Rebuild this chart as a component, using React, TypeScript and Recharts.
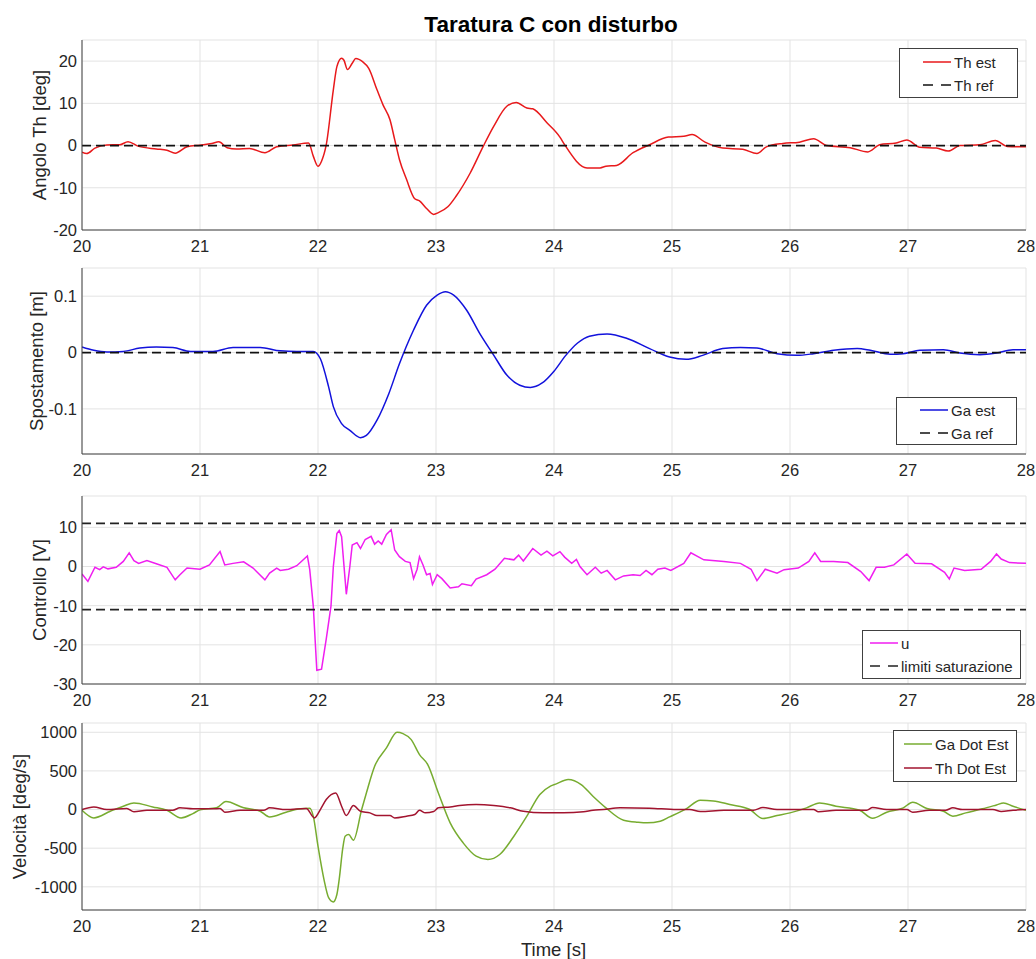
import React from 'react';
import { LineChart, Line, XAxis, YAxis, CartesianGrid } from 'recharts';

const FONT = '"Liberation Sans", Arial, Helvetica, sans-serif';
const AXIS = '#404040';
const TEXT = '#262626';
const GRID = '#e3e3e3';

type Pt = [number, number];

const timeTicks = [20, 21, 22, 23, 24, 25, 26, 27, 28];
const angleTicks = [-20, -10, 0, 10, 20];
const shiftTicks = [-0.1, 0, 0.1];
const ctrlTicks = [-30, -20, -10, 0, 10];
const speedTicks = [-1000, -500, 0, 500, 1000];

// Th est [deg]
const thEst: Pt[] = [
  [20.0, -1.6], [20.04, -1.9], [20.11, -0.6], [20.21, 0.15], [20.32, 0.2], [20.39, 0.9], [20.48, -0.2],
  [20.63, -0.8], [20.72, -1.1], [20.79, -1.8], [20.89, -0.3], [21.0, 0.1], [21.1, 0.5], [21.16, 0.9],
  [21.23, -0.5], [21.31, -0.8], [21.42, -0.7], [21.55, -1.7], [21.65, -0.3], [21.79, 0.15], [21.92, 0.6],
  [21.96, -2.5], [22.0, -4.9], [22.03, -3.7], [22.07, 0.2], [22.13, 13.2], [22.16, 18.7], [22.2, 20.7],
  [22.22, 20.2], [22.25, 18.0], [22.29, 19.5], [22.32, 20.6], [22.38, 19.8], [22.43, 18.3], [22.5, 13.2],
  [22.55, 9.7], [22.61, 6.1], [22.65, 1.4], [22.69, -3.3], [22.75, -8.0], [22.82, -12.6], [22.86, -13.1],
  [22.92, -14.9], [22.98, -16.3], [23.02, -15.9], [23.1, -14.5], [23.17, -12.0], [23.29, -6.5], [23.4, -0.2],
  [23.49, 4.6], [23.6, 9.3], [23.68, 10.2], [23.77, 8.9], [23.82, 8.7], [23.94, 5.4], [24.05, 2.0],
  [24.09, 0.2], [24.28, -5.3], [24.39, -5.3], [24.44, -4.9], [24.53, -4.7], [24.67, -1.7], [24.81, 0.2],
  [24.97, 2.0], [25.1, 2.2], [25.17, 2.6], [25.28, 0.8], [25.43, -0.6], [25.6, -0.9], [25.72, -1.9],
  [25.8, -0.3], [25.94, 0.5], [26.08, 0.8], [26.2, 1.6], [26.31, 0], [26.51, -0.5], [26.66, -1.5],
  [26.76, 0.2], [26.9, 0.6], [26.99, 1.3], [27.1, -0.4], [27.24, -0.6], [27.34, -1.3], [27.44, 0],
  [27.61, 0.2], [27.74, 1.2], [27.84, -0.2], [28.0, -0.3],
];
const thRef = 0;

// Ga est [m]
const gaEst: Pt[] = [
  [20.0, 0.01], [20.1, 0.004], [20.21, 0.001], [20.35, 0.002], [20.49, 0.008], [20.63, 0.01], [20.77, 0.009],
  [20.92, 0.002], [21.11, 0.002], [21.28, 0.009], [21.51, 0.009], [21.68, 0.003], [21.82, 0.002], [21.96, 0.002],
  [22.02, -0.011], [22.09, -0.061], [22.13, -0.096], [22.2, -0.126], [22.27, -0.138], [22.36, -0.151],
  [22.41, -0.147], [22.5, -0.12], [22.6, -0.073], [22.69, -0.02], [22.81, 0.04], [22.92, 0.084], [23.01, 0.102],
  [23.08, 0.108], [23.15, 0.102], [23.26, 0.075], [23.37, 0.034], [23.49, -0.005], [23.6, -0.04], [23.71, -0.058],
  [23.8, -0.062], [23.9, -0.054], [24.0, -0.033], [24.1, -0.005], [24.2, 0.017], [24.3, 0.029],
  [24.45, 0.033], [24.62, 0.025], [24.81, 0.007], [24.98, -0.008], [25.12, -0.012],
  [25.26, -0.005], [25.43, 0.007], [25.58, 0.009], [25.72, 0.008], [25.89, -0.002], [26.06, -0.005],
  [26.2, -0.002], [26.37, 0.004], [26.57, 0.007], [26.68, 0.004], [26.85, -0.003], [26.96, -0.002],
  [27.1, 0.004], [27.3, 0.005], [27.44, -0.001], [27.61, -0.004], [27.75, -0.001], [27.89, 0.005], [28.0, 0.005],
];
const gaRef = 0;

// u [V]
const uCtrl: Pt[] = [
  [20.0, -1.9], [20.05, -3.8], [20.11, -0.2], [20.15, -0.8], [20.18, -0.1], [20.22, -0.6], [20.29, -0.2],
  [20.35, 1.3], [20.4, 3.5], [20.44, 1.5], [20.48, 0.8], [20.55, 1.5], [20.63, 0.7], [20.72, -0.2],
  [20.79, -3.4], [20.83, -2.1], [20.89, -0.4], [21.0, -0.7], [21.08, 0.4], [21.17, 3.8], [21.21, 0.4],
  [21.28, 0.8], [21.37, 1.2], [21.45, -0.4], [21.55, -3.4], [21.59, -1.7], [21.65, -0.4], [21.68, -1.0],
  [21.75, -0.7], [21.82, 0.2], [21.91, 2.7], [21.93, -0.8], [21.96, -10.1], [21.99, -26.5], [22.03, -26.2],
  [22.07, -18.5], [22.11, -10.1], [22.13, 0], [22.16, 8.4], [22.18, 9.2], [22.2, 7.6], [22.23, -3.4],
  [22.24, -7.1], [22.27, 0], [22.29, 5.5], [22.33, 6.1], [22.36, 4.6], [22.4, 6.9], [22.45, 7.7],
  [22.48, 5.7], [22.51, 6.5], [22.54, 5.7], [22.58, 8.2], [22.62, 9.4], [22.65, 4.2], [22.69, 2.5],
  [22.74, 1.3], [22.78, 1.0], [22.81, -3.1], [22.84, -0.7], [22.86, 2.5], [22.89, 0.4], [22.92, -2.1],
  [22.95, -1.8], [22.97, -4.6], [23.01, -2.1], [23.05, -3.1], [23.12, -5.5], [23.19, -5.2], [23.22, -4.4],
  [23.3, -4.9], [23.34, -3.2], [23.43, -2.1], [23.5, -0.7], [23.58, 2.1], [23.66, 1.7], [23.7, 2.9],
  [23.74, 1.4], [23.82, 4.6], [23.89, 2.9], [23.94, 3.9], [23.99, 2.7], [24.05, 3.8], [24.09, 2.4],
  [24.15, 0.8], [24.19, 1.8], [24.22, 0], [24.28, -2.1], [24.35, -0.2], [24.4, -1.7], [24.45, -1.0],
  [24.52, -3.4], [24.59, -2.4], [24.67, -2.1], [24.73, -2.3], [24.78, -1.0], [24.83, -2.1], [24.88, -0.7],
  [24.94, -0.4], [24.99, -1.0], [25.1, 0.8], [25.16, 3.5], [25.27, 1.7], [25.44, 1.3], [25.58, 0.8],
  [25.67, -0.7], [25.72, -3.6], [25.79, -0.7], [25.89, -1.7], [25.95, -0.8], [26.07, -0.4], [26.16, 1.3],
  [26.21, 3.5], [26.26, 1.3], [26.37, 1.3], [26.49, 1.0], [26.6, -1.3], [26.67, -3.6], [26.73, -0.2],
  [26.8, -0.2], [26.88, 0.4], [26.99, 3.2], [27.06, 0.8], [27.2, 0.7], [27.31, -1.5], [27.35, -3.2],
  [27.39, -0.4], [27.48, -1.0], [27.62, -0.7], [27.7, 1.3], [27.75, 3.2], [27.79, 1.9], [27.86, 1.0],
  [28.0, 0.8],
];
const uLimit = 11;

// Ga Dot Est / Th Dot Est [deg/s]
const gaDotEst: Pt[] = [
  [20.0, -9], [20.1, -108], [20.24, -22], [20.35, 43], [20.44, 86], [20.6, 34], [20.72, -9], [20.84, -108],
  [20.94, -52], [21.0, -4], [21.14, 22], [21.22, 103], [21.37, 22], [21.51, -22], [21.59, -95], [21.73, -34],
  [21.85, 9], [21.93, 17], [21.96, -86], [22.0, -474], [22.05, -900], [22.09, -1140], [22.13, -1195],
  [22.16, -1100], [22.18, -900], [22.21, -500], [22.23, -345], [22.26, -323], [22.3, -397], [22.37, 0],
  [22.41, 215], [22.48, 560], [22.58, 797], [22.67, 1000], [22.72, 983], [22.79, 905], [22.86, 711],
  [22.93, 582], [23.02, 215], [23.12, -172], [23.23, -431], [23.34, -603], [23.44, -647], [23.54, -582],
  [23.66, -345], [23.77, -86], [23.88, 194], [23.97, 302], [24.02, 332], [24.12, 388], [24.23, 323],
  [24.33, 172], [24.44, 22], [24.59, -138], [24.71, -164], [24.79, -172], [24.9, -151], [24.98, -95],
  [25.12, 9], [25.24, 121], [25.35, 112], [25.49, 65], [25.66, 0], [25.77, -116], [25.89, -78], [26.0, -43],
  [26.14, 22], [26.25, 86], [26.39, 43], [26.59, -9], [26.7, -112], [26.82, -34], [26.96, 22], [27.04, 95],
  [27.16, 13], [27.3, -22], [27.38, -86], [27.49, -43], [27.63, 9], [27.75, 60], [27.81, 86], [27.89, 43],
  [28.0, -9],
];
const thDotEst: Pt[] = [
  [20.0, 0], [20.1, 34], [20.21, 0], [20.38, 13], [20.44, -30], [20.55, -9], [20.77, -9], [20.83, 22],
  [20.94, 9], [21.11, 9], [21.17, 13], [21.21, -34], [21.34, -9], [21.54, -9], [21.59, 22], [21.73, 0],
  [21.9, 13], [21.97, -108], [22.02, 0], [22.07, 129], [22.15, 215], [22.2, 43], [22.24, -78], [22.3, 52],
  [22.36, -22], [22.44, -43], [22.5, -78], [22.61, -78], [22.65, -108], [22.75, -86], [22.82, -65],
  [22.86, -9], [22.91, -43], [22.98, -26], [23.02, 22], [23.12, 34], [23.2, 52], [23.34, 65], [23.49, 52],
  [23.63, 22], [23.74, -22], [23.91, -43], [24.08, -43], [24.25, -30], [24.33, -9], [24.42, 0], [24.56, 22],
  [24.81, 17], [25.04, 0], [25.15, 0], [25.24, -26], [25.44, -9], [25.69, -9], [25.77, 26], [25.89, 0],
  [26.2, 0], [26.24, -30], [26.39, -9], [26.65, -9], [26.7, 26], [26.82, 0], [26.99, 0], [27.04, -34],
  [27.18, -9], [27.32, -9], [27.38, 22], [27.46, 0], [27.72, 0], [27.79, -26], [27.89, -9], [28.0, 0],
];

const rows = (pts: Pt[]) => pts.map(([t, v]) => ({ t, v }));
const flat = (value: number) => [{ t: 20, v: value }, { t: 28, v: value }];

const tickText = { fill: TEXT, fontSize: 16.5, fontFamily: FONT };

// box, labelled axes and inward tick marks on all four sides
function frameAxes(domain: [number, number], ticks: number[]) {
  const x = { type: 'number' as const, dataKey: 't', domain: [20, 28], ticks: timeTicks, allowDataOverflow: true };
  const y = { type: 'number' as const, domain, ticks, allowDataOverflow: true };
  return [
    <XAxis key="xb" xAxisId="main" {...x} orientation="bottom" height={30} tickLine={false} tickSize={0}
      tickMargin={10} axisLine={{ stroke: AXIS }} tick={tickText} />,
    <XAxis key="xbi" xAxisId="bin" {...x} orientation="bottom" mirror height={0} tick={false} tickSize={7}
      tickLine={{ stroke: AXIS }} axisLine={false} />,
    <XAxis key="xt" xAxisId="top" {...x} orientation="top" mirror height={0} tick={false} tickSize={7}
      tickLine={{ stroke: AXIS }} axisLine={{ stroke: AXIS }} />,
    <YAxis key="yl" yAxisId="main" {...y} orientation="left" width={82} tickLine={false} tickSize={0}
      tickMargin={5} axisLine={{ stroke: AXIS }} tick={tickText} />,
    <YAxis key="yli" yAxisId="lin" {...y} orientation="left" mirror width={0} tick={false} tickSize={7}
      tickLine={{ stroke: AXIS }} axisLine={false} />,
    <YAxis key="yr" yAxisId="right" {...y} orientation="right" mirror width={0} tick={false} tickSize={7}
      tickLine={{ stroke: AXIS }} axisLine={{ stroke: AXIS }} />,
  ];
}

function series(data: { t: number; v: number }[], color: string, curve: 'monotone' | 'linear' = 'monotone', dashed = false) {
  return (
    <Line xAxisId="main" yAxisId="main" data={data} dataKey="v" type={curve}
      stroke={color} strokeWidth={dashed ? 1.7 : 1.5} strokeDasharray={dashed ? '9 5' : undefined}
      dot={false} activeDot={false} isAnimationActive={false} />
  );
}

interface PanelProps {
  top: number;
  plotHeight: number;
  domain: [number, number];
  ticks: number[];
  children: React.ReactNode;
}

function Panel({ top, plotHeight, domain, ticks, children }: PanelProps) {
  return (
    <div style={{ position: 'absolute', left: 0, top: top - 10 }}>
      <LineChart width={1036} height={plotHeight + 40} margin={{ top: 10, right: 10, bottom: 0, left: 0 }}>
        <CartesianGrid xAxisId="main" yAxisId="main" stroke={GRID} />
        {frameAxes(domain, ticks)}
        {children}
      </LineChart>
    </div>
  );
}

interface LegendItem {
  label: string;
  color: string;
  dashed?: boolean;
}

function LegendBox({ left, top, width, height, pad, items }: {
  left: number; top: number; width: number; height: number; pad: number; items: LegendItem[];
}) {
  return (
    <div style={{
      position: 'absolute', left, top, width, height, boxSizing: 'border-box', background: '#fff',
      border: `1px solid ${AXIS}`, fontFamily: FONT, fontSize: 15, color: TEXT,
    }}>
      {items.map((item, i) => {
        const cy = height * (i === 0 ? 0.27 : 0.74) - 1;
        return (
          <React.Fragment key={item.label}>
            <svg width={28} height={10} style={{ position: 'absolute', left: pad, top: cy - 5 }}>
              <line x1={0} x2={28} y1={5} y2={5} stroke={item.color} strokeWidth={1.5}
                strokeDasharray={item.dashed ? '10 8' : undefined} />
            </svg>
            <span style={{
              position: 'absolute', left: pad + 31, top: cy, transform: 'translateY(-50%)',
              lineHeight: 1, whiteSpace: 'nowrap',
            }}>{item.label}</span>
          </React.Fragment>
        );
      })}
    </div>
  );
}

// y labels sit just left of the widest tick label of each panel
const yLabels = [
  { text: 'Angolo Th [deg]', x: 46, cy: 135 },
  { text: 'Spostamento [m]', x: 43, cy: 361 },
  { text: 'Controllo [V]', x: 46, cy: 590 },
  { text: 'Velocità [deg/s]', x: 26, cy: 816.5 },
];

export default function App() {
  return (
    <div style={{ position: 'absolute', left: 0, top: 0, width: 1036, height: 959, background: '#fff', overflow: 'hidden' }}>
      <svg width={1036} height={959} style={{ position: 'absolute', left: 0, top: 0 }}>
        <text x={551} y={32} textAnchor="middle" fontFamily={FONT} fontWeight="bold" fontSize={22.5} fill="#000">
          Taratura C con disturbo
        </text>
        {yLabels.map((l) => (
          <text key={l.text} x={l.x} y={l.cy} transform={`rotate(-90 ${l.x} ${l.cy})`} textAnchor="middle"
            fontFamily={FONT} fontSize={18.5} fill={TEXT}>{l.text}</text>
        ))}
        <text x={553.5} y={956} textAnchor="middle" fontFamily={FONT} fontSize={18.5} fill={TEXT}>Time [s]</text>
      </svg>

      <Panel top={40} plotHeight={190} domain={[-20, 25]} ticks={angleTicks}>
        {series(rows(thEst), '#e8191b')}
        {series(flat(thRef), '#111', 'linear', true)}
      </Panel>
      <Panel top={268} plotHeight={186} domain={[-0.18, 0.15]} ticks={shiftTicks}>
        {series(rows(gaEst), '#1212dc')}
        {series(flat(gaRef), '#111', 'linear', true)}
      </Panel>
      <Panel top={496} plotHeight={188} domain={[-30, 18]} ticks={ctrlTicks}>
        {series(rows(uCtrl), '#f01ef0', 'linear')}
        {series(flat(uLimit), '#222', 'linear', true)}
        {series(flat(-uLimit), '#222', 'linear', true)}
      </Panel>
      <Panel top={723} plotHeight={187} domain={[-1300, 1120]} ticks={speedTicks}>
        {series(rows(gaDotEst), '#77ac30')}
        {series(rows(thDotEst), '#a2142f')}
      </Panel>

      <LegendBox left={899} top={48} width={119} height={50} pad={23}
        items={[{ label: 'Th est', color: '#e8191b' }, { label: 'Th ref', color: '#111', dashed: true }]} />
      <LegendBox left={896} top={397} width={121} height={48} pad={23}
        items={[{ label: 'Ga est', color: '#1212dc' }, { label: 'Ga ref', color: '#111', dashed: true }]} />
      <LegendBox left={862} top={630} width={159} height={49} pad={7}
        items={[{ label: 'u', color: '#f01ef0' }, { label: 'limiti saturazione', color: '#222', dashed: true }]} />
      <LegendBox left={893} top={730} width={124} height={52} pad={10}
        items={[{ label: 'Ga Dot Est', color: '#77ac30' }, { label: 'Th Dot Est', color: '#a2142f' }]} />
    </div>
  );
}
